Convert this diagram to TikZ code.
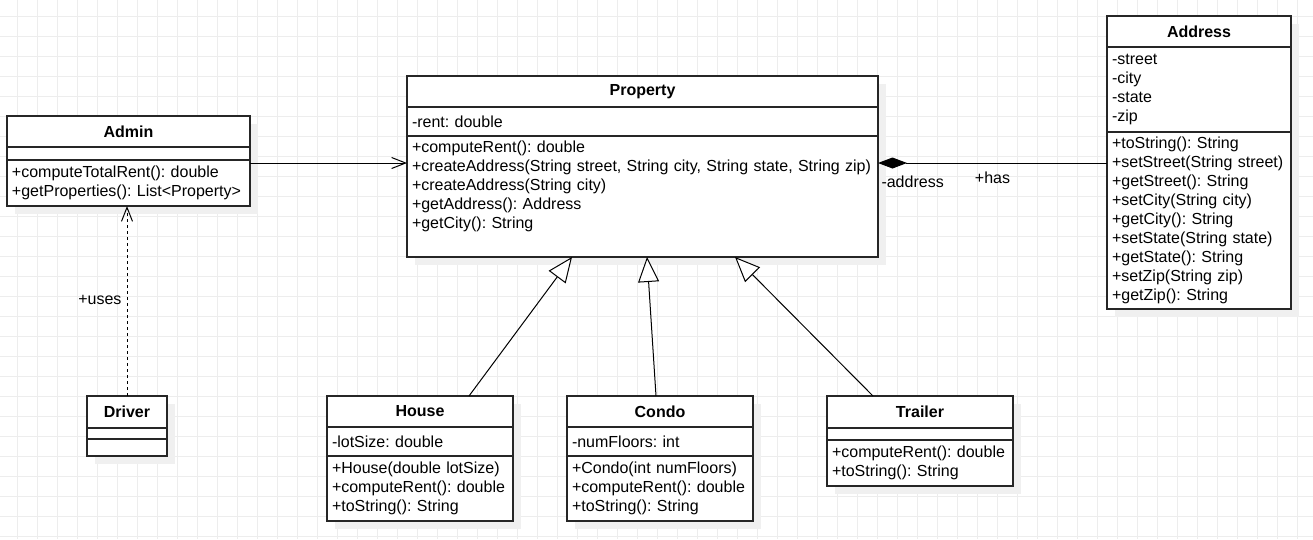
\documentclass[tikz,border=0pt]{standalone}
\usepackage{fontspec}
\setmainfont{Liberation Sans}
\usetikzlibrary{arrows.meta, positioning, backgrounds}

\newcommand{\umlfont}{\fontsize{16}{19}\selectfont\frenchspacing}

\tikzset{
  classhead/.style={draw=black!85, fill=white, line width=1.3pt, anchor=north west, outer sep=0pt,
    inner xsep=5pt, inner ysep=0pt, align=center, font=\umlfont\bfseries},
  classpart/.style={draw=black!85, fill=white, line width=1.3pt, anchor=north west, outer sep=0pt,
    inner xsep=5pt, inner ysep=1pt, align=left, font=\umlfont},
  classshadow/.style={fill=black!6},
  gridline/.style={draw=black!7, line width=1pt},
  assoc/.style={draw=black, line width=1pt, -{Straight Barb[length=14pt, width=11pt]}},
  depend/.style={assoc, dash pattern=on 3pt off 3pt},
  inherit/.style={draw=black, line width=1pt, -{Triangle[length=25pt, width=21pt, fill=white]}},
  compose/.style={draw=black, line width=1pt, {Diamond[length=29pt, width=11pt]}-},
  edgelabel/.style={font=\umlfont, inner sep=0pt}
}

\begin{document}
\begin{tikzpicture}[x=1pt, y=-1pt]

  \useasboundingbox (0,0) rectangle (1313,539);

  \begin{scope}[on background layer]
    \foreach \gx in {17,37,...,1297} \draw[gridline] (\gx,0) -- (\gx,539);
    \foreach \gy in {16,36,...,536} \draw[gridline] (0,\gy) -- (1313,\gy);
  \end{scope}

  % Admin
  \node (adminH) [classhead, text width=233pt, minimum height=31pt] at (7,116) {Admin};
  \node (adminA) [classpart, text width=233pt, minimum height=13pt] at (adminH.south west) {};
  \node (adminM) [classpart, text width=233pt, minimum height=46pt] at (adminA.south west)
    {+computeTotalRent(): double\\+getProperties(): List<Property>};

  % Property
  \node (propH) [classhead, text width=461pt, minimum height=31pt] at (407,76) {Property};
  \node (propA) [classpart, text width=461pt, minimum height=29pt] at (propH.south west) {-rent: double};
  \node (propM) [classpart, text width=461pt, minimum height=121pt] at (propA.south west)
    {+computeRent(): double\\+createAddress(String street, String city, String state, String zip)\\
     +createAddress(String city)\\+getAddress(): Address\\+getCity(): String\\[5pt]\mbox{}};

  % Address
  \node (addrH) [classhead, text width=174pt, minimum height=31pt] at (1107,16) {Address};
  \node (addrA) [classpart, text width=174pt, minimum height=85pt] at (addrH.south west)
    {-street\\-city\\-state\\-zip};
  \node (addrM) [classpart, text width=174pt, minimum height=177pt] at (addrA.south west)
    {+toString(): String\\+setStreet(String street)\\+getStreet(): String\\+setCity(String city)\\
     +getCity(): String\\+setState(String state)\\+getState(): String\\+setZip(String zip)\\
     +getZip(): String};

  % Driver
  \node (driverH) [classhead, text width=70pt, minimum height=32pt] at (87,396) {Driver};
  \node (driverA) [classpart, text width=70pt, minimum height=11pt] at (driverH.south west) {};
  \node (driverM) [classpart, text width=70pt, minimum height=17pt] at (driverA.south west) {};

  % House
  \node (houseH) [classhead, text width=176pt, minimum height=31pt] at (327,396) {House};
  \node (houseA) [classpart, text width=176pt, minimum height=29pt] at (houseH.south west) {-lotSize: double};
  \node (houseM) [classpart, text width=176pt, minimum height=65pt] at (houseA.south west)
    {+House(double lotSize)\\+computeRent(): double\\+toString(): String};

  % Condo
  \node (condoH) [classhead, text width=176pt, minimum height=31pt] at (567,396) {Condo};
  \node (condoA) [classpart, text width=176pt, minimum height=29pt] at (condoH.south west) {-numFloors: int};
  \node (condoM) [classpart, text width=176pt, minimum height=65pt] at (condoA.south west)
    {+Condo(int numFloors)\\+computeRent(): double\\+toString(): String};

  % Trailer
  \node (trailerH) [classhead, text width=176pt, minimum height=32pt] at (827,396) {Trailer};
  \node (trailerA) [classpart, text width=176pt, minimum height=12pt] at (trailerH.south west) {};
  \node (trailerM) [classpart, text width=176pt, minimum height=46pt] at (trailerA.south west)
    {+computeRent(): double\\+toString(): String};

  \begin{scope}[on background layer]
    \foreach \cls/\last in {adminH/adminM, propH/propM, addrH/addrM, driverH/driverM,
        houseH/houseM, condoH/condoM, trailerH/trailerM}
      \fill[classshadow] ([shift={(8,8)}]\cls.north west) rectangle ([shift={(8,8)}]\last.south east);
  \end{scope}

  % connectors
  \coordinate (adminOut) at ([yshift=-3pt]adminM.north east);
  \draw[assoc] (adminOut) -- (adminOut -| propM.west);

  \draw[depend] (driverH.north) -- (driverH.north |- adminM.south)
    node[edgelabel, pos=0.484, anchor=base east, xshift=-5pt] {+uses};

  \coordinate (propOut) at ([yshift=-27pt]propM.north east);
  \draw[compose] (propOut) -- (propOut -| addrM.west)
    node[edgelabel, at start, anchor=base west, xshift=3pt, yshift=-24pt] {-address}
    node[edgelabel, midway, anchor=base, yshift=-20pt] {+has};

  \draw[inherit] ([xshift=49pt]houseH.north) -- ([xshift=-70.5pt]propM.south);
  \draw[inherit] ([xshift=-4pt]condoH.north) -- ([xshift=4.5pt]propM.south);
  \draw[inherit] ([xshift=-47pt]trailerH.north) -- ([xshift=92.5pt]propM.south);

\end{tikzpicture}
\end{document}
